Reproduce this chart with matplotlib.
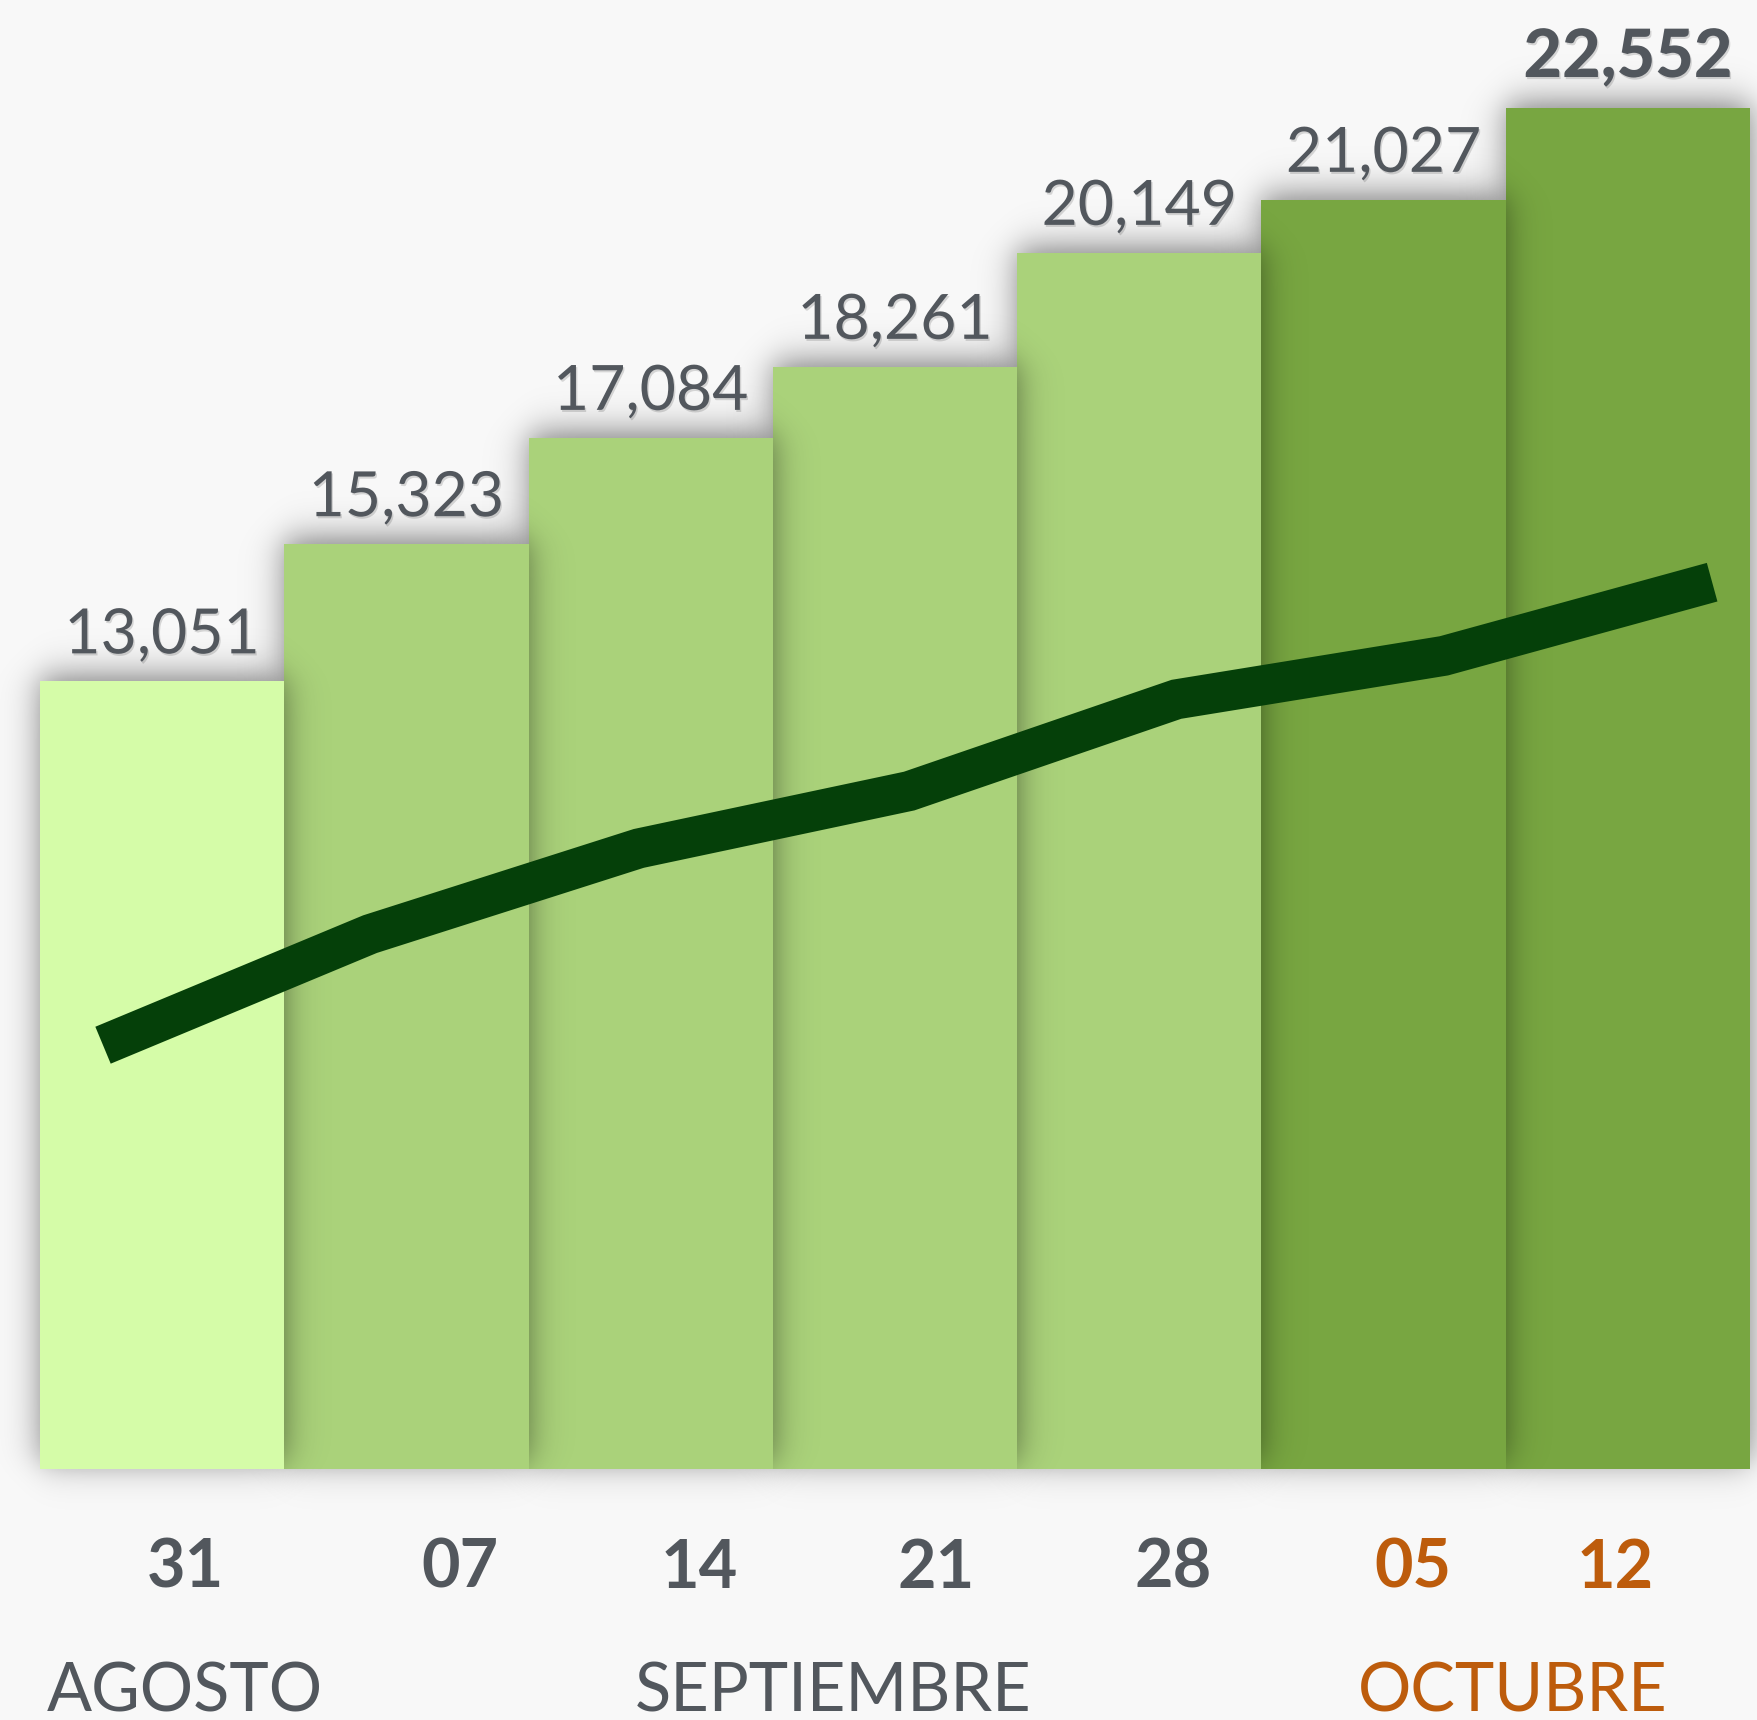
import numpy as np
import matplotlib
matplotlib.use("Agg")
import matplotlib.pyplot as plt
import matplotlib.patheffects as pe
from matplotlib.transforms import blended_transform_factory

plt.rcParams['font.family'] = ['Lato', 'DejaVu Sans']

# datos
days = ['31', '07', '14', '21', '28', '05', '12']
months = ['AGOSTO', 'SEPTIEMBRE', 'OCTUBRE']
totals = [13051, 15323, 17084, 18261, 20149, 21027, 22552]
trend = [7020, 8860, 10280, 11230, 12750, 13470, 14690]

# estilos / posiciones
bar_colors = ['#d5fca8', '#aad27a', '#aad27a', '#aad27a', '#aad27a', '#78a641', '#78a641']
day_colors = ['#52575d'] * 5 + ['#bd5c0c'] * 2
month_colors = ['#52575d', '#52575d', '#bd5c0c']
day_pos = [0.094, 1.22, 2.20, 3.17, 4.14, 5.12, 5.95]
month_pos = [47, 635, 1358]          # px desde la izquierda
line_pos = [-0.242, 0.851, 1.951, 3.058, 4.152, 5.247, 6.345]
GRAY = '#52575d'
BG = '#f8f8f8'

W, H = 1757, 1720
PX = 244.29          # px por unidad x
UY = 16.565          # unidades y por px

fig = plt.figure(figsize=(W / 100, H / 100), dpi=100, facecolor=BG)
ax = fig.add_axes([0, 0, 1, 1])
ax.set_facecolor(BG)
ax.axis('off')


def sig(z):
  return 1.0 / (1.0 + np.exp(-z))


def shadow(i, top, zorder):
  # sombra difusa de una barra
  s_px = 10.0
  off_px = 6.0
  L, R = i - 0.5, i + 0.5
  mx = 60 / PX
  my = 60 * UY
  xs = np.linspace(L - mx, R + mx, 160)
  ys = np.linspace(-my, top + my, 400)
  sx = sig((xs - L) / (s_px / PX)) - sig((xs - R) / (s_px / PX))
  yo = off_px * UY
  sy = sig((ys - yo) / (s_px * UY)) - sig((ys - top - yo) / (s_px * UY))
  a = 0.5 * np.outer(sy, sx)
  img = np.zeros((len(ys), len(xs), 4))
  img[..., 3] = a
  ax.imshow(img, extent=(xs[0], xs[-1], ys[0], ys[-1]), origin='lower',
            aspect='auto', interpolation='bilinear', zorder=zorder)


x = np.arange(len(totals))
bars = ax.bar(x, totals, width=1.0, color=bar_colors, linewidth=0)
for i, b in enumerate(bars):
  z = 2 * (len(totals) - i) + 1
  b.set_zorder(z)
  shadow(i, totals[i], z - 0.5)

ax.plot(line_pos, trend, color='#054009', linewidth=40 * 0.72,
        solid_capstyle='butt', solid_joinstyle='miter', zorder=30)

txt_shadow = [pe.SimplePatchShadow(offset=(1.0, -1.5), shadow_rgbFace='#000000', alpha=0.14), pe.Normal()]
for i, v in enumerate(totals):
  last = i == len(totals) - 1
  ax.annotate(f"{v:,}", (i, v), xytext=(0, 20 if not last else 22), textcoords='offset points',
              ha='center', va='baseline', fontsize=48 if last else 45,
              fontweight='black' if last else 'normal', color=GRAY,
              path_effects=txt_shadow, zorder=40)

trans = blended_transform_factory(ax.transData, fig.transFigure)
for d, p, c in zip(days, day_pos, day_colors):
  ax.text(p, 132 / H, d, transform=trans, ha='center', va='baseline',
          fontsize=48, fontweight='bold', color=c, zorder=40)

for m, p, c in zip(months, month_pos, month_colors):
  fig.text(p / W, 9 / H, m, ha='left', va='baseline', fontsize=48, color=c)

ax.set_xlim(-0.5 - 40 / PX, 6.5 + 7 / PX)
ax.set_ylim(-251 * UY, (H - 251) * UY)

fig.savefig('out.png', dpi=100, facecolor=BG)
